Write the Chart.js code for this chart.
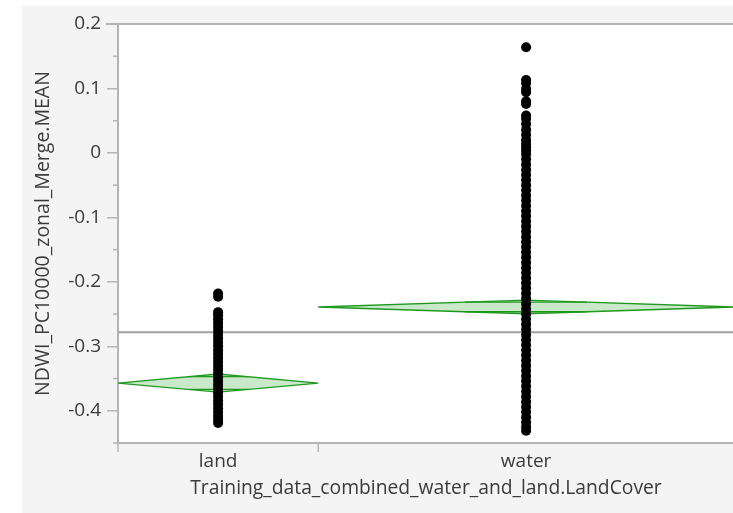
<!DOCTYPE html>
<html>
<head>
<meta charset="utf-8">
<title>NDWI by LandCover</title>
<script src="https://cdn.jsdelivr.net/npm/chart.js"></script>
<style>
  html, body { margin: 0; padding: 0; background: #fff; overflow: hidden; }
  #wrap { width: 739px; height: 513px; position: relative; }
</style>
</head>
<body>
<div id="wrap"><canvas id="oneway"></canvas></div>
<script>
// groups and their share of the x axis (JMP sizes groups by count)
const categories = ['land', 'water'];
const groupShare = [0.325, 0.675];

const landValues = [-0.218, -0.223, -0.247, -0.252, -0.258, -0.264, -0.270, -0.276, -0.282,
  -0.288, -0.294, -0.300, -0.306, -0.312, -0.318, -0.324, -0.330, -0.336, -0.342, -0.348,
  -0.354, -0.360, -0.366, -0.372, -0.378, -0.384, -0.390, -0.396, -0.402, -0.408, -0.414, -0.419];

const waterValues = [0.164, 0.113, 0.108, 0.099, 0.094, 0.080, 0.076, 0.058, 0.053, 0.045,
  0.036, 0.028, 0.020, 0.014, 0.009, 0.004, -0.002, -0.010, -0.018, -0.026, -0.034, -0.042,
  -0.050, -0.058, -0.066, -0.074, -0.082, -0.090, -0.098, -0.106, -0.114, -0.122, -0.130,
  -0.138, -0.146, -0.154, -0.162, -0.170, -0.178, -0.186, -0.194, -0.202, -0.210, -0.218,
  -0.226, -0.234, -0.242, -0.250, -0.258, -0.266, -0.274, -0.282, -0.290, -0.298, -0.306,
  -0.314, -0.322, -0.330, -0.338, -0.346, -0.354, -0.362, -0.370, -0.378, -0.386, -0.394,
  -0.402, -0.410, -0.418, -0.425, -0.431];

// means diamonds: group mean and 95% CI half-width
const groupMeans = [-0.357, -0.239];
const meanCI = [0.014, 0.0105];
const grandMean = -0.278;

const yTicks = [-0.4, -0.3, -0.2, -0.1, 0, 0.1, 0.2];
const yMinorTicks = [-0.45, -0.35, -0.25, -0.15, -0.05, 0.05, 0.15];

const starts = [];
let acc = 0;
groupShare.forEach(s => { starts.push(acc); acc += s; });
const centers = groupShare.map((s, i) => starts[i] + s / 2);
const boundaries = starts.concat([acc]);

const textColor = '#3a3a3a';
const axisColor = '#b4b4b4';
const fontFamily = '"Open Sans", "Noto Sans", sans-serif';

const panelPlugin = {
  id: 'panel',
  beforeDraw(chart) {
    const { ctx, chartArea: a, width, height } = chart;
    ctx.save();
    ctx.fillStyle = '#ffffff';
    ctx.fillRect(0, 0, width, height);
    ctx.fillStyle = '#f4f4f4';
    ctx.fillRect(22, 6, width - 22, height - 6);
    ctx.fillStyle = '#ffffff';
    ctx.fillRect(a.left, a.top, a.right - a.left, a.bottom - a.top);
    ctx.restore();
  },
  beforeDatasetsDraw(chart) {
    const { ctx } = chart;
    const xs = chart.scales.x, ys = chart.scales.y;
    ctx.save();
    groupMeans.forEach((m, i) => {
      const x0 = xs.getPixelForValue(boundaries[i]);
      const x1 = xs.getPixelForValue(boundaries[i + 1]);
      const xc = xs.getPixelForValue(centers[i]);
      const ym = ys.getPixelForValue(m);
      const yt = ys.getPixelForValue(m + meanCI[i]);
      const yb = ys.getPixelForValue(m - meanCI[i]);
      ctx.beginPath();
      ctx.moveTo(x0, ym);
      ctx.lineTo(xc, yt);
      ctx.lineTo(x1, ym);
      ctx.lineTo(xc, yb);
      ctx.closePath();
      ctx.fillStyle = 'rgba(80,180,80,0.3)';
      ctx.fill();
      ctx.strokeStyle = '#1f9a1f';
      ctx.lineWidth = 1.3;
      ctx.stroke();
      // overlap marks
      const h = meanCI[i] / Math.SQRT2;
      const hw = (x1 - x0) / 2 * (1 - 1 / Math.SQRT2);
      [m + h, m - h].forEach(v => {
        const y = ys.getPixelForValue(v);
        ctx.beginPath();
        ctx.moveTo(xc - hw, y);
        ctx.lineTo(xc + hw, y);
        ctx.stroke();
      });
    });
    ctx.restore();
  },
  afterDraw(chart) {
    const { ctx, chartArea: a, width } = chart;
    const xs = chart.scales.x, ys = chart.scales.y;
    ctx.save();
    ctx.strokeStyle = axisColor;
    ctx.lineWidth = 2;
    ctx.beginPath();
    ctx.moveTo(a.left - 12, a.top);
    ctx.lineTo(width, a.top);
    ctx.stroke();
    ctx.lineWidth = 1.5;
    yMinorTicks.forEach(v => {
      const y = ys.getPixelForValue(v);
      ctx.beginPath();
      ctx.moveTo(a.left - 5, y);
      ctx.lineTo(a.left, y);
      ctx.stroke();
    });
    boundaries.slice(0, -1).forEach(v => {
      const x = xs.getPixelForValue(v);
      ctx.beginPath();
      ctx.moveTo(x, a.bottom);
      ctx.lineTo(x, a.bottom + 9);
      ctx.stroke();
    });
    ctx.restore();
  }
};

new Chart(document.getElementById('oneway'), {
  type: 'scatter',
  data: {
    datasets: [
      {
        label: 'Grand mean',
        type: 'line',
        data: [{ x: 0, y: grandMean }, { x: 1, y: grandMean }],
        borderColor: '#a0a0a0',
        borderWidth: 2,
        pointRadius: 0,
        order: 2
      },
      {
        label: categories[0],
        data: landValues.map(v => ({ x: centers[0], y: v })),
        backgroundColor: '#000',
        borderWidth: 0,
        pointRadius: 5,
        order: 1
      },
      {
        label: categories[1],
        data: waterValues.map(v => ({ x: centers[1], y: v })),
        backgroundColor: '#000',
        borderWidth: 0,
        pointRadius: 5,
        order: 1
      }
    ]
  },
  options: {
    responsive: true,
    maintainAspectRatio: false,
    animation: false,
    layout: { padding: { left: 22, top: 24, right: 0, bottom: 0 } },
    plugins: { legend: { display: false }, tooltip: { enabled: false } },
    scales: {
      x: {
        type: 'linear',
        min: 0,
        max: 1,
        afterBuildTicks: s => { s.ticks = centers.map(v => ({ value: v })); },
        afterFit: s => { s.height = 70; },
        ticks: {
          callback: (v, i) => categories[i],
          color: textColor,
          font: { family: fontFamily, size: 19 },
          padding: 1,
          maxRotation: 0
        },
        grid: { drawOnChartArea: false, drawTicks: true, tickLength: 6, color: 'rgba(0,0,0,0)' },
        border: { color: axisColor, width: 2 },
        title: {
          display: true,
          text: 'Training_data_combined_water_and_land.LandCover',
          color: textColor,
          font: { family: fontFamily, size: 19.3 },
          padding: { top: 0, bottom: 12.5 }
        }
      },
      y: {
        min: -0.45,
        max: 0.2,
        afterBuildTicks: s => { s.ticks = yTicks.map(v => ({ value: v })); },
        afterFit: s => { s.width = 96; },
        ticks: {
          callback: v => String(+v.toFixed(2)),
          color: textColor,
          font: { family: fontFamily, size: 19 },
          padding: 6
        },
        grid: { drawOnChartArea: false, drawTicks: true, tickLength: 11, color: axisColor, lineWidth: 1.5 },
        border: { color: axisColor, width: 2 },
        title: {
          display: true,
          text: 'NDWI_PC10000_zonal_Merge.MEAN',
          color: textColor,
          font: { family: fontFamily, size: 19.5 },
          padding: { top: 9.3, bottom: 0 }
        }
      }
    }
  },
  plugins: [panelPlugin]
});
</script>
</body>
</html>
